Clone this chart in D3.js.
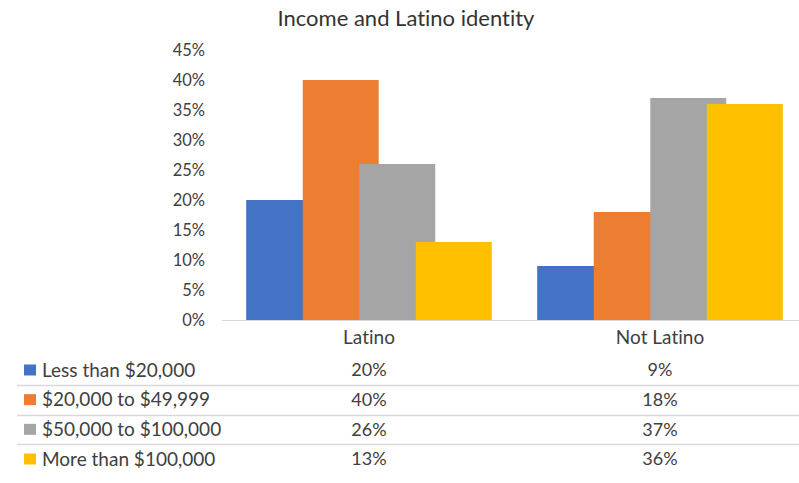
<!DOCTYPE html>
<html>
<head>
<meta charset="utf-8">
<script src="https://cdn.jsdelivr.net/npm/d3@7"></script>
<style>
  html, body { margin: 0; padding: 0; background: #fff; }
  svg { display: block; font-family: Lato, "Open Sans", sans-serif; font-variant-ligatures: none; }
</style>
</head>
<body>
<svg id="chart" width="799" height="483"></svg>
<script>
// Income distribution by Latino identity
const categories = ["Latino", "Not Latino"];
const seriesNames = ["Less than $20,000", "$20,000 to $49,999", "$50,000 to $100,000", "More than $100,000"];
const lessThan20k = [20, 9];
const from20kTo50k = [40, 18];
const from50kTo100k = [26, 37];
const moreThan100k = [13, 36];
const seriesValues = [lessThan20k, from20kTo50k, from50kTo100k, moreThan100k];
const yTicks = [0, 5, 10, 15, 20, 25, 30, 35, 40, 45];
const colors = ["#4472C4", "#ED7D31", "#A5A5A5", "#FFC000"];

const svg = d3.select("#chart");
const textColor = "#404040";

// Title
svg.append("text")
  .attr("x", 406).attr("y", 26)
  .attr("text-anchor", "middle")
  .attr("font-size", 22)
  .attr("fill", "#333")
  .text("Income and Latino identity");

// Scales
const y = d3.scaleLinear().domain([0, 45]).range([320, 50]);
const x = d3.scaleBand().domain(categories).range([223.5, 805.5]).padding(0);

// Bars overlap: each bar is wider than the step between series
const barW = x.bandwidth() * 0.261;
const groupW = x.bandwidth() * 0.844;
const offset = d3.scalePoint().domain(seriesNames)
  .range([-groupW / 2, groupW / 2 - barW]);

// Y axis labels (no line, no ticks)
const yAxis = d3.axisLeft(y).tickValues(yTicks).tickSize(0).tickPadding(0)
  .tickFormat(d => d + "%");
const yg = svg.append("g").attr("transform", "translate(205,0)").call(yAxis);
yg.select(".domain").remove();
yg.selectAll("text").attr("font-size", 16.5).attr("fill", textColor)
  .attr("font-family", "Lato, sans-serif");

// Bars, drawn series by series so later series sit on top
seriesNames.forEach((name, si) => {
  svg.append("g").selectAll("rect")
    .data(categories.map((c, ci) => ({ c, v: seriesValues[si][ci] })))
    .join("rect")
    .attr("x", d => x(d.c) + x.bandwidth() / 2 + offset(name))
    .attr("y", d => y(d.v))
    .attr("width", barW)
    .attr("height", d => y(0) - y(d.v))
    .attr("fill", colors[si]);
});

// Category axis line
svg.append("line")
  .attr("x1", 222).attr("x2", 799)
  .attr("y1", y(0) + 0.5).attr("y2", y(0) + 0.5)
  .attr("stroke", "#d9d9d9").attr("stroke-width", 1);

// Category labels
svg.append("g").selectAll("text")
  .data(categories).join("text")
  .attr("x", d => x(d) + x.bandwidth() / 2)
  .attr("y", 344)
  .attr("text-anchor", "middle")
  .attr("font-size", 19)
  .attr("fill", textColor)
  .text(d => d);

// Data table below the chart
const rowY = d3.scalePoint().domain(seriesNames).range([370, 459]);
const rowStep = rowY.step();

// Row separators
svg.append("g").selectAll("line")
  .data(seriesNames.slice(1)).join("line")
  .attr("x1", 17).attr("x2", 799)
  .attr("y1", d => Math.round(rowY(d) - rowStep / 2) + 0.5)
  .attr("y2", d => Math.round(rowY(d) - rowStep / 2) + 0.5)
  .attr("stroke", "#d9d9d9").attr("stroke-width", 1.5);

const rows = svg.append("g").selectAll("g")
  .data(seriesNames).join("g");

rows.append("rect")
  .attr("x", 24).attr("y", d => rowY(d) - 5.5)
  .attr("width", 12).attr("height", 11)
  .attr("fill", (d, i) => colors[i]);

rows.append("text")
  .attr("x", 42).attr("y", d => rowY(d))
  .attr("dy", "0.35em")
  .attr("font-size", 19)
  .attr("fill", textColor)
  .text(d => d);

rows.each(function (name, si) {
  d3.select(this).selectAll("text.val")
    .data(categories).join("text")
    .attr("class", "val")
    .attr("x", c => x(c) + x.bandwidth() / 2)
    .attr("y", rowY(name))
    .attr("dy", "0.35em")
    .attr("text-anchor", "middle")
    .attr("font-size", 18)
    .attr("fill", textColor)
    .text((c, ci) => seriesValues[si][ci] + "%");
});
</script>
</body>
</html>
